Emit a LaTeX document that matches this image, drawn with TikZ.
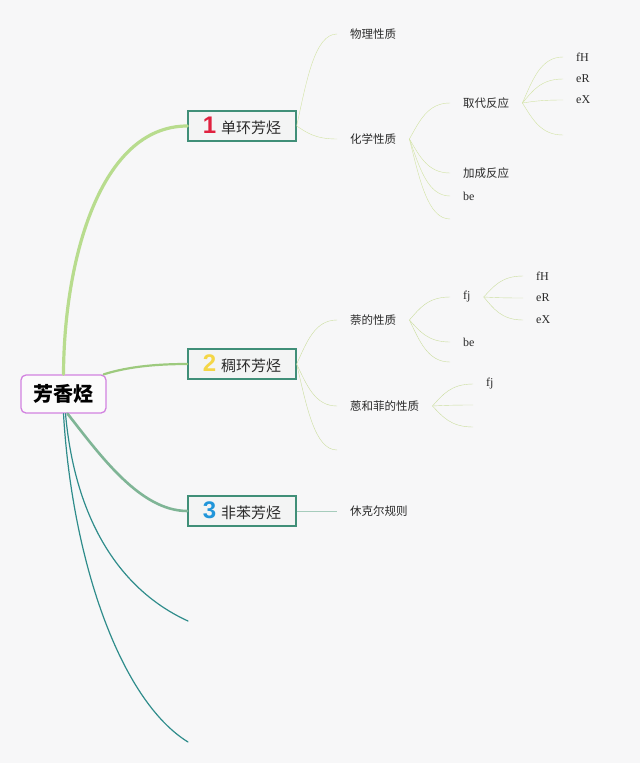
\documentclass[tikz,border=0pt]{standalone}
\usepackage{fontspec}
\setmainfont{Liberation Serif}
\newfontfamily\cjk{Noto Sans CJK SC}
\newfontfamily\numfont{Liberation Sans}
\usetikzlibrary{calc}
\definecolor{bgc}{HTML}{F7F7F8}
\definecolor{boxc}{HTML}{F3F4F4}
\definecolor{rootc}{HTML}{D282E0}
\definecolor{ringc}{HTML}{408F78}
\definecolor{txtc}{HTML}{2A2A2A}
\definecolor{onec}{HTML}{E0213F}
\definecolor{twoc}{HTML}{F4D646}
\definecolor{threec}{HTML}{2196DA}
\definecolor{armA}{HTML}{B8DC8E}
\definecolor{armB}{HTML}{9DCA7E}
\definecolor{armC}{HTML}{7FB596}
\definecolor{armD}{HTML}{2F8C8B}
\definecolor{twigA}{HTML}{D2E3A2}
\definecolor{twigB}{HTML}{CBDE9E}
\definecolor{twigC}{HTML}{A6CCBC}

\begin{document}
\begin{tikzpicture}[x=1pt, y=-1pt,
    topic/.style={
      draw=rootc,
      line width=1.3pt,
      rounded corners=5pt,
      fill=white!50!bgc,
      minimum width=85pt,
      minimum height=38pt,
      inner sep=0pt,
      font=\cjk\bfseries\fontsize{20}{24}\selectfont
    },
    ring/.style={
      draw=ringc,
      line width=1.3pt,
      fill=boxc,
      minimum width=108pt,
      minimum height=30pt,
      inner sep=0pt,
      text=txtc,
      font=\cjk\fontsize{15}{18}\selectfont
    },
    leaf/.style={anchor=west, inner xsep=13pt, inner ysep=2pt, text=txtc, font=\cjk\fontsize{11.5}{14}\selectfont},
    tag/.style={leaf, font=\fontsize{12}{14}\selectfont},
    twig/.style={line width=0.7pt,
      to path={let \p1=(\tikztostart), \p2=(\tikztotarget) in
        .. controls (0.75*\x1+0.25*\x2, 0.5*\y1+0.5*\y2) and (0.55*\x1+0.45*\x2, \y2) .. (\tikztotarget)}},
    arm/.style={line cap=round}
  ]
    \fill[bgc] (0,0) rectangle (640,763);
    \useasboundingbox (0,0) rectangle (640,763);

    \node[topic] (root) at (63.5,394) {芳香烃};
    \node[ring] (ring1) at (242,126) {{\numfont\bfseries\fontsize{24}{24}\selectfont\color{onec}1}\hspace{5pt}单环芳烃};
    \node[ring] (ring2) at (242,364) {{\numfont\bfseries\fontsize{24}{24}\selectfont\color{twoc}2}\hspace{5pt}稠环芳烃};
    \node[ring] (ring3) at (242,511) {{\numfont\bfseries\fontsize{24}{24}\selectfont\color{threec}3}\hspace{5pt}非苯芳烃};

    % branch 1
    \node[leaf] (phys) at (337,34) {物理性质};
    \node[leaf] (chem) at (337,139) {化学性质};
    \node[leaf] (subst) at (450,103) {取代反应};
    \node[leaf] (addn) at (450,173) {加成反应};
    \node[tag] (chembe) at (450,196) {be};
    \coordinate (chemx) at (450,219);
    \node[tag] (sfH) at (563,57) {fH};
    \node[tag] (seR) at (563,79) {eR};
    \node[tag] (seX) at (563,100) {eX};
    \coordinate (substx) at (563,135);

    % branch 2
    \node[leaf] (naph) at (337,320) {萘的性质};
    \node[leaf] (anth) at (337,406) {蒽和菲的性质};
    \coordinate (ring2x) at (337,450);
    \node[tag] (nfj) at (450,297) {fj};
    \node[tag] (nbe) at (450,342) {be};
    \coordinate (naphx) at (450,362);
    \node[tag] (nfH) at (523,276) {fH};
    \node[tag] (neR) at (523,298) {eR};
    \node[tag] (neX) at (523,320) {eX};
    \node[tag] (afj) at (473,384) {fj};
    \coordinate (anthx) at (473,405);
    \coordinate (anthy) at (473,427);

    % branch 3
    \node[leaf] (huckel) at (337,511) {休克尔规则};
    \coordinate (endA) at (188,621);
    \coordinate (endB) at (188,742);

    % main arms
    \draw[arm, armA, line width=3.2pt] (root.north) .. controls (64,260) and (100,126) .. (ring1.west);
    \draw[arm, armB, line width=2.2pt] ([xshift=-3pt]root.north east) .. controls (130,366) and (160,364) .. (ring2.west);
    \draw[arm, armC, line width=2.6pt] ([xshift=4pt]root.south) .. controls (100,455) and (140,511) .. (ring3.west);
    \draw[arm, armD, line width=1.2pt] ([xshift=2pt]root.south) .. controls (75,520) and (120,590) .. (endA);
    \draw[arm, armD, line width=1.2pt] (root.south) .. controls (72,560) and (120,700) .. (endB);

    % twigs
    \draw[twigA] (ring1.east) to[twig] (phys.west);
    \draw[twigA] (ring1.east) to[twig] (chem.west);
    \draw[twigA] (chem.east) to[twig] (subst.west);
    \draw[twigA] (chem.east) to[twig] (addn.west);
    \draw[twigA] (chem.east) to[twig] (chembe.west);
    \draw[twigA] (chem.east) to[twig] (chemx);
    \draw[twigA] (subst.east) to[twig] (sfH.west);
    \draw[twigA] (subst.east) to[twig] (seR.west);
    \draw[twigA] (subst.east) to[twig] (seX.west);
    \draw[twigA] (subst.east) to[twig] (substx);

    \draw[twigB] (ring2.east) to[twig] (naph.west);
    \draw[twigB] (ring2.east) to[twig] (anth.west);
    \draw[twigB] (ring2.east) to[twig] (ring2x);
    \draw[twigB] (naph.east) to[twig] (nfj.west);
    \draw[twigB] (naph.east) to[twig] (nbe.west);
    \draw[twigB] (naph.east) to[twig] (naphx);
    \draw[twigB] (nfj.east) to[twig] (nfH.west);
    \draw[twigB] (nfj.east) to[twig] (neR.west);
    \draw[twigB] (nfj.east) to[twig] (neX.west);
    \draw[twigB] (anth.east) to[twig] (afj.west);
    \draw[twigB] (anth.east) to[twig] (anthx);
    \draw[twigB] (anth.east) to[twig] (anthy);

    \draw[twigC, line width=1pt] (ring3.east) -- (huckel.west);
  \end{tikzpicture}
\end{document}
